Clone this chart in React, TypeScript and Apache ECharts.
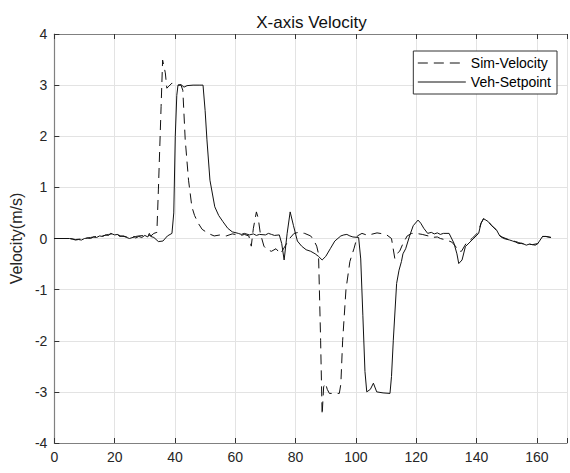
import React, { useEffect, useRef } from "react";
import * as echarts from "echarts";

const xTicks = [0, 20, 40, 60, 80, 100, 120, 140, 160];
const yTicks = [-4, -3, -2, -1, 0, 1, 2, 3, 4];

const simTime = [
  0, 5, 7, 9, 10, 12, 14, 16, 18, 20, 22, 24, 25, 27, 28, 30, 31, 32, 33, 34, 34.5, 35.4, 35.9, 36.8, 37.3, 38,
  39, 40, 41, 42, 42.6, 43.4, 44.5, 45.6, 46.5, 47.7, 49, 51, 53, 55, 57, 59, 60, 62, 63, 64.5, 65.3, 66, 67,
  67.6, 68.3, 69.5, 70.5, 72, 73.5, 75, 76.5, 78, 79.5, 81, 83, 85, 86, 87, 87.6, 88.3, 88.8, 89.3, 89.9, 90.5,
  91.2, 93, 94.5, 95, 95.6, 96.7, 98, 99.4, 100.5, 102, 104, 105, 107, 108, 110, 111.8, 112.9, 113.5, 114.5,
  115.6, 117, 118.5, 120, 122, 124, 125, 127, 128, 130, 131.8, 133, 134, 135, 136.5, 138.5, 140.5, 141.5, 142.3,
  144, 146.6, 148, 151, 153, 154, 155, 156.5, 157.5, 158.5, 160.3, 161.9, 163, 164.7,
];
const simVelocity = [
  0, 0, -0.02, -0.01, 0.0, 0.02, 0.04, 0.05, 0.08, 0.1, 0.05, 0.03, 0.02, 0.04, 0.05, 0.06, 0.08, 0.05, 0.1,
  0.12, 0.95, 2.58, 3.49, 3.24, 2.94, 2.98, 3.04, 3.02, 3.0, 3.0, 2.9, 1.93, 1.14, 0.62, 0.45, 0.3, 0.18, 0.1,
  0.05, 0.07, 0.05, 0.09, 0.08, 0.06, 0.08, 0.05, -0.15, 0.2, 0.52, 0.4, 0.1, -0.15, -0.22, -0.25, -0.2, -0.3,
  -0.15, 0.0, 0.1, 0.12, 0.1, 0.05, -0.03, -0.15, -0.3, -2.0, -3.45, -2.9, -2.83, -2.95, -3.03, -3.03, -3.03,
  -2.85, -2.0, -1.0, -0.45, -0.19, 0.05, 0.1, 0.06, 0.08, 0.11, 0.1, 0.08, 0.0, -0.39, -0.3, -0.25, -0.1, 0.05,
  0.1, 0.1, 0.08, 0.05, 0.02, 0.03, 0.0, -0.03, -0.07, -0.15, -0.25, -0.25, -0.1, 0.0, 0.12, 0.3, 0.38, 0.32,
  0.16, 0.04, -0.03, -0.06, -0.08, -0.1, -0.12, -0.11, -0.12, -0.1, 0.04, 0.04, 0.02,
];

const vehTime = [
  0, 5, 6, 7, 8, 9, 10, 11, 12, 13, 14, 15, 16, 17, 18, 18.7, 20, 21, 21.6, 23, 24, 24.9, 26.5, 27, 28, 29, 30,
  31, 31.5, 32, 33, 34.5, 36, 37.5, 39, 39.6, 40.1, 40.6, 41, 42, 43, 44, 46, 48, 49.3, 50, 50.6, 51.6, 53.2,
  54.5, 55.9, 57.5, 59, 61, 62, 63, 64.7, 66, 67, 68, 70, 71, 72, 73, 74.6, 75.4, 76.2, 77.2, 78.2, 79.3, 80.6,
  82, 83.5, 85, 86.5, 87.6, 88.8, 90, 91.5, 93, 95, 96, 97, 98, 99, 100.9, 101.6, 102.3, 103, 103.6, 104.8,
  105.8, 106.9, 109, 111.3, 111.8, 112.4, 113.5, 114.3, 115.1, 115.6, 116.5, 117.8, 119, 120.6, 121.5, 122.5,
  123.8, 125, 126, 127, 128, 129, 130.9, 132.5, 133.5, 134.1, 135.2, 136.3, 138.5, 140.7, 141.5, 142.3, 143.9,
  145, 146.6, 147.7, 149, 151, 152, 153, 154, 155, 156.5, 157.5, 158.5, 159.5, 160.3, 161.9, 163, 164.7,
];
const vehSetpoint = [
  0, 0, -0.01, -0.03, -0.02, -0.03, 0.0, 0.01, 0.0, 0.03, 0.02, 0.05, 0.04, 0.07, 0.06, 0.1, 0.07, 0.08, 0.04,
  0.05, 0.02, 0.0, 0.03, 0.01, 0.04, 0.02, 0.06, 0.03, 0.1, 0.04, 0.02, -0.06, -0.05, 0.05, 0.1, 0.5, 2.0, 2.8,
  3.0, 3.01, 2.96, 2.99, 3.0, 3.0, 3.0, 2.5, 1.93, 1.14, 0.62, 0.45, 0.33, 0.2, 0.13, 0.1, 0.08, 0.1, 0.07,
  0.09, 0.06, 0.08, 0.07, 0.1, 0.08, 0.06, 0.07, -0.1, -0.42, 0.1, 0.52, 0.25, -0.05, -0.15, -0.22, -0.25, -0.3,
  -0.35, -0.42, -0.35, -0.2, -0.05, 0.05, 0.07, 0.08, 0.05, 0.03, 0.02, -0.4, -1.5, -2.6, -3.0, -2.95, -2.83,
  -3.0, -3.02, -3.03, -2.7, -1.99, -0.88, -0.62, -0.45, -0.3, -0.2, 0.05, 0.25, 0.36, 0.3, 0.2, 0.1, 0.12, 0.09,
  0.11, 0.08, 0.1, 0.1, -0.09, -0.3, -0.49, -0.42, -0.16, -0.03, 0.1, 0.3, 0.39, 0.33, 0.25, 0.17, 0.05, 0.0,
  -0.03, -0.05, -0.07, -0.1, -0.09, -0.13, -0.11, -0.12, -0.13, -0.1, 0.04, 0.04, 0.02,
];

const FONT = "'Liberation Sans', Arial, sans-serif";
const GRID = { left: 53, top: 34, width: 517, height: 409 };

export default function App() {
  const ref = useRef<HTMLDivElement>(null);
  useEffect(() => {
    document.body.style.margin = "0";
    if (!ref.current) return;
    const chart = echarts.init(ref.current, undefined, { renderer: "svg" });
    const simData = simTime.map((t, i) => [t, simVelocity[i]]);
    const vehData = vehTime.map((t, i) => [t, vehSetpoint[i]]);
    const axisLineColor = "#808080";
    chart.setOption({
      animation: false,
      backgroundColor: "#ffffff",
      textStyle: { fontFamily: FONT },
      grid: { ...GRID, containLabel: false },
      graphic: [
        {
          type: "text",
          x: GRID.left + GRID.width / 2,
          y: 22,
          style: {
            text: "X-axis Velocity",
            fontSize: 17,
            fontFamily: FONT,
            fill: "#111",
            textAlign: "center",
            textVerticalAlign: "middle",
          },
        },
      ],
      legend: {
        orient: "vertical",
        right: 13,
        top: 51,
        itemWidth: 48,
        itemHeight: 14,
        itemGap: 5,
        padding: [5, 6, 5, 4],
        borderColor: "#333",
        borderWidth: 1,
        backgroundColor: "#ffffff",
        itemStyle: { color: "rgba(0,0,0,0)", borderColor: "rgba(0,0,0,0)", borderWidth: 0, opacity: 0 },
        lineStyle: { width: 1 },
        textStyle: { fontSize: 14, color: "#000", fontFamily: FONT },
        data: ["Sim-Velocity", "Veh-Setpoint"],
      },
      xAxis: [
        {
          type: "value",
          min: 0,
          max: 170,
          interval: 20,
          position: "bottom",
          axisLine: { show: true, onZero: false, lineStyle: { color: axisLineColor, width: 1.2 } },
          axisTick: { show: true, inside: true, length: 5, lineStyle: { color: "#333" } },
          axisLabel: {
            fontSize: 14,
            color: "#262626",
            margin: 7,
            fontFamily: FONT,
            formatter: (v: number) => (xTicks.includes(v) ? String(v) : ""),
          },
          splitLine: { show: true, lineStyle: { color: "#e3e3e3", width: 1 } },
        },
        {
          type: "value",
          min: 0,
          max: 170,
          interval: 20,
          position: "top",
          axisLine: { show: true, onZero: false, lineStyle: { color: axisLineColor, width: 1.2 } },
          axisTick: { show: true, inside: true, length: 5, lineStyle: { color: "#333" } },
          axisLabel: { show: false },
          splitLine: { show: false },
        },
      ],
      yAxis: [
        {
          type: "value",
          min: -4,
          max: 4,
          interval: 1,
          name: "Velocity(m/s)",
          nameLocation: "middle",
          nameGap: 30,
          nameRotate: 90,
          nameTextStyle: { fontSize: 16, color: "#262626", fontFamily: FONT },
          axisLine: { show: true, onZero: false, lineStyle: { color: axisLineColor, width: 1.2 } },
          axisTick: { show: true, inside: true, length: 5, lineStyle: { color: "#333" } },
          axisLabel: {
            fontSize: 14,
            color: "#262626",
            margin: 7,
            fontFamily: FONT,
            formatter: (v: number) => (yTicks.includes(v) ? String(v) : ""),
          },
          splitLine: { show: true, lineStyle: { color: "#e3e3e3", width: 1 } },
        },
      ],
      series: [
        {
          name: "Sim-Velocity",
          type: "line",
          data: simData,
          symbol: "none",
          showSymbol: false,
          lineStyle: { color: "#111", width: 1, type: [10, 6] },
          itemStyle: { color: "#111" },
          z: 3,
        },
        {
          name: "Veh-Setpoint",
          type: "line",
          data: vehData,
          symbol: "none",
          showSymbol: false,
          lineStyle: { color: "#111", width: 1, type: "solid" },
          itemStyle: { color: "#111" },
          z: 4,
        },
      ],
    });
    return () => chart.dispose();
  }, []);
  return (
    <div
      ref={ref}
      style={{ position: "fixed", left: 0, top: 0, width: 570, height: 473, background: "#fff" }}
    />
  );
}
